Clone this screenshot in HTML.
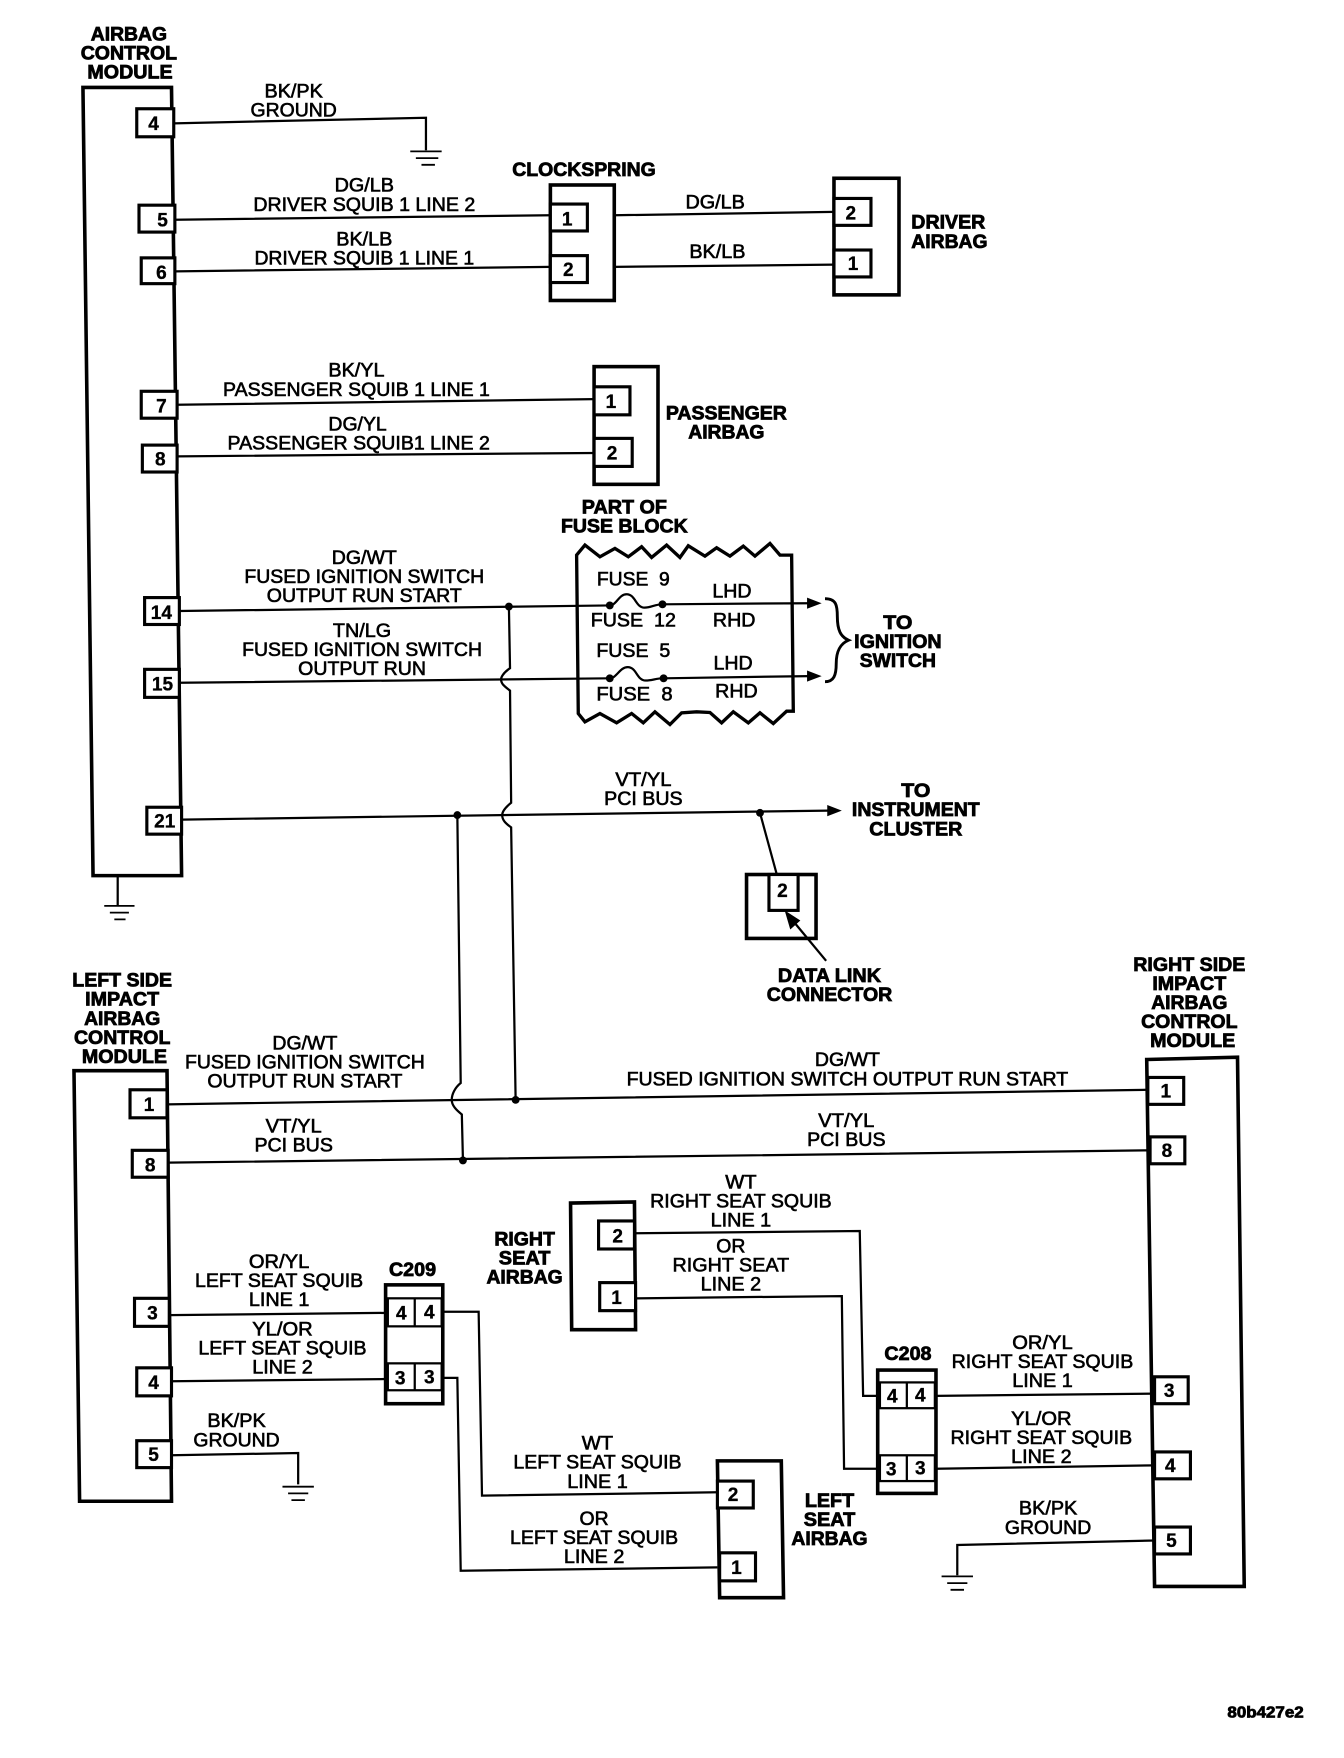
<!DOCTYPE html>
<html><head><meta charset="utf-8"><title>Airbag wiring diagram</title>
<style>
html,body{margin:0;padding:0;background:#fff}
svg{display:block;position:absolute;left:0;top:0}
text{font-family:"Liberation Sans",sans-serif;fill:#000;text-anchor:middle;font-size:17px}
.t{stroke:#000;stroke-width:.55px}
.b{font-weight:bold;stroke:#000;stroke-width:.7px}
.n{font-weight:bold;font-size:17px;stroke:#000;stroke-width:.3px}
.w{fill:none;stroke:#000;stroke-width:2}
.o{fill:#fff;stroke:#000;stroke-width:3.2}
.p{fill:#fff;stroke:#000;stroke-width:2.8}
.g{fill:none;stroke:#000;stroke-width:1.6}
</style></head><body>
<svg width="1344" height="1758" viewBox="0 0 1199 1568" preserveAspectRatio="none" xmlns="http://www.w3.org/2000/svg">
<rect width="1199" height="1568" fill="#fff"/>

<!-- bodies -->
<polygon class="o" points="74,78 153,78 162,781 83,781"/>
<rect class="o" x="491" y="165" width="57" height="103"/>
<rect class="o" x="744" y="159" width="58" height="104"/>
<rect class="o" x="530" y="327" width="57" height="105"/>
<polygon class="o" points="66,955 149,955 153,1339 71,1339"/>
<polygon class="o" points="1023,945 1104,943 1110,1415 1030,1415"/>
<polygon class="o" points="509,1073 566,1072 567,1186 510,1186"/>
<polygon class="o" points="640,1303 697,1303 699,1425 642,1425"/>
<rect class="o" x="666" y="780" width="62" height="57"/>

<!-- wires -->
<path class="w" d="M155,110 L380,105 L380,134"/>
<path class="g" d="M366,135H394M371,141H391M376,147H388"/>
<path class="w" d="M156,196 L491,192M156,242 L491,238M548,192 L744,189M548,238 L744,236"/>
<path class="w" d="M158,361 L530,356M158,407 L530,404"/>
<path class="w" d="M160,545 L544,540 C550,540 552,530 559,530 C567,530 567,542 575,542 C581,542 584,539 591,539 L722,538"/>
<polygon points="733,538 720,533 720,543"/>
<path class="w" d="M160,609 L544,605 C550,605 553,595 560,595 C568,595 568,607 576,607 C582,607 585,605 592,605 L722,603"/>
<polygon points="733,603 720,598 720,608"/>
<path class="w" d="M454,541 L455,596 C449,600 447,604 447,606 C447,610 450,612 455,616 L456,716 C451,720 448,724 448,727 C448,732 452,735 456,738 L460,981"/>
<path class="w" d="M162,731 L739,723"/>
<polygon points="751,723 738,718 738,728"/>
<path class="w" d="M678,725 L693,780"/>
<path class="w" d="M408,727 L411,966 C406,970 403,976 403,981 C403,986 407,990 412,994 L413,1035"/>
<path class="w" d="M149,985 L1024,972M150,1037 L1026,1026"/>
<path class="w" d="M151,1173 L344,1171M153,1232 L344,1230"/>
<path class="w" d="M153,1298 L266,1296 L266,1324"/>
<path class="g" d="M252,1326H280M257,1332H275M260,1338H272"/>
<path class="w" d="M395,1170 L427,1170 L430,1334 L640,1331"/>
<path class="w" d="M395,1229 L408,1229 L411,1401 L640,1398"/>
<path class="w" d="M567,1100 L767,1098 L770,1245 L784,1245"/>
<path class="w" d="M567,1158 L751,1156 L753,1310 L784,1310"/>
<path class="w" d="M835,1245 L1030,1243M835,1310 L1030,1307"/>
<path class="w" d="M1030,1374 L854,1378 L854,1405"/>
<path class="g" d="M840,1406H868M845,1412H863M848,1418H860"/>
<path class="w" d="M105,781 L105,808"/>
<path class="g" d="M93,808H120M98,814H115M102,820H112"/>

<!-- dots -->
<circle cx="454" cy="541" r="3.5"/><circle cx="544" cy="540" r="3.5"/><circle cx="591" cy="539" r="3.5"/>
<circle cx="544" cy="605" r="3.5"/><circle cx="592" cy="605" r="3.5"/>
<circle cx="408" cy="727" r="3.5"/><circle cx="678" cy="725" r="3.5"/>
<circle cx="460" cy="981" r="3.5"/><circle cx="413" cy="1035" r="3.5"/>

<!-- fuse block -->
<path transform="translate(446,428.2) scale(.2974)" fill="none" stroke="#000" stroke-width="10" stroke-linejoin="miter" d="M230,225 L255,195 L300,230 L345,205 L385,230 L425,200 L455,232 L500,195 L540,232 L565,197 L615,228 L650,203 L690,228 L730,198 L765,228 L810,190 L840,225 L875,225 L880,693 L860,693 L820,730 L780,698 L745,728 L700,695 L665,728 L630,697 L590,695 L545,698 L510,733 L465,695 L430,728 L395,700 L350,728 L300,700 L255,725 L235,700 Z"/>

<!-- brace -->
<path fill="none" stroke="#000" stroke-width="2.6" d="M736,534 C746,534 747,540 747,550 C747,562 750,568 757,571 C750,574 746,580 746,592 C746,602 744,608 736,608"/>

<!-- DLC arrow -->
<path class="w" d="M737,857 L708,822"/>
<polygon points="700,812 714,821 705,829"/>

<!-- pins -->
<rect class="p" x="122" y="97" width="33" height="25"/>
<rect class="p" x="124" y="183" width="32" height="24"/>
<rect class="p" x="126" y="230" width="30" height="23"/>
<rect class="p" x="126" y="349" width="32" height="24"/>
<rect class="p" x="127" y="397" width="31" height="24"/>
<rect class="p" x="129" y="533" width="31" height="24"/>
<rect class="p" x="129" y="597" width="31" height="25"/>
<rect class="p" x="131" y="720" width="31" height="24"/>
<rect class="p" x="491" y="182" width="33" height="24"/>
<rect class="p" x="491" y="228" width="33" height="24"/>
<rect class="p" x="744" y="177" width="33" height="24"/>
<rect class="p" x="744" y="223" width="33" height="24"/>
<rect class="p" x="530" y="345" width="32" height="25"/>
<rect class="p" x="530" y="391" width="34" height="25"/>
<rect class="p" x="686" y="780" width="26" height="32"/>
<rect class="p" x="116" y="972" width="33" height="25"/>
<rect class="p" x="118" y="1026" width="32" height="24"/>
<rect class="p" x="120" y="1158" width="31" height="25"/>
<rect class="p" x="122" y="1220" width="31" height="25"/>
<rect class="p" x="122" y="1285" width="31" height="24"/>
<rect class="p" x="534" y="1089" width="32" height="25"/>
<rect class="p" x="535" y="1144" width="32" height="25"/>
<rect class="p" x="640" y="1321" width="32" height="24"/>
<rect class="p" x="642" y="1385" width="32" height="25"/>
<rect class="p" x="1024" y="961" width="32" height="24"/>
<rect class="p" x="1026" y="1014" width="31" height="24"/>
<rect class="p" x="1030" y="1228" width="30" height="24"/>
<rect class="p" x="1030" y="1295" width="32" height="24"/>
<rect class="p" x="1030" y="1362" width="32" height="24"/>

<!-- C209 / C208 -->
<rect class="o" x="344" y="1146" width="51" height="106"/>
<rect class="w" x="346" y="1158" width="48" height="25"/>
<rect class="w" x="346" y="1216" width="48" height="24"/>
<path class="w" d="M370,1158V1183M370,1216V1240"/>
<rect class="o" x="783" y="1222" width="52" height="110"/>
<rect class="w" x="785" y="1233" width="49" height="23"/>
<rect class="w" x="785" y="1298" width="49" height="23"/>
<path class="w" d="M809,1233V1256M809,1298V1321"/>

<!-- pin numbers -->
<text class="n" x="137" y="116">4</text>
<text class="n" x="145" y="202">5</text>
<text class="n" x="144" y="249">6</text>
<text class="n" x="144" y="368">7</text>
<text class="n" x="143" y="415">8</text>
<text class="n" x="144" y="552">14</text>
<text class="n" x="145" y="616">15</text>
<text class="n" x="147" y="738">21</text>
<text class="n" x="506" y="201">1</text>
<text class="n" x="507" y="246">2</text>
<text class="n" x="759" y="196">2</text>
<text class="n" x="761" y="241">1</text>
<text class="n" x="545" y="364">1</text>
<text class="n" x="546" y="410">2</text>
<text class="n" x="698" y="800">2</text>
<text class="n" x="133" y="991">1</text>
<text class="n" x="134" y="1045">8</text>
<text class="n" x="136" y="1177">3</text>
<text class="n" x="137" y="1239">4</text>
<text class="n" x="137" y="1303">5</text>
<text class="n" x="551" y="1108">2</text>
<text class="n" x="550" y="1163">1</text>
<text class="n" x="654" y="1339">2</text>
<text class="n" x="657" y="1404">1</text>
<text class="n" x="1040" y="979">1</text>
<text class="n" x="1041" y="1032">8</text>
<text class="n" x="1043" y="1246">3</text>
<text class="n" x="1044" y="1313">4</text>
<text class="n" x="1045" y="1380">5</text>
<text class="n" x="358" y="1177">4</text>
<text class="n" x="383" y="1176">4</text>
<text class="n" x="357" y="1235">3</text>
<text class="n" x="383" y="1234">3</text>
<text class="n" x="796" y="1251">4</text>
<text class="n" x="821" y="1250">4</text>
<text class="n" x="795" y="1316">3</text>
<text class="n" x="821" y="1315">3</text>

<!-- bold headings -->
<text class="b" x="115" y="36" textLength="68" lengthAdjust="spacingAndGlyphs">AIRBAG</text>
<text class="b" x="115" y="53" textLength="86" lengthAdjust="spacingAndGlyphs">CONTROL</text>
<text class="b" x="116" y="70" textLength="76" lengthAdjust="spacingAndGlyphs">MODULE</text>
<text class="b" x="521" y="157" textLength="128" lengthAdjust="spacingAndGlyphs">CLOCKSPRING</text>
<text class="b" x="846" y="204" textLength="66" lengthAdjust="spacingAndGlyphs">DRIVER</text>
<text class="b" x="847" y="221" textLength="68" lengthAdjust="spacingAndGlyphs">AIRBAG</text>
<text class="b" x="648" y="374" textLength="108" lengthAdjust="spacingAndGlyphs">PASSENGER</text>
<text class="b" x="648" y="391" textLength="68" lengthAdjust="spacingAndGlyphs">AIRBAG</text>
<text class="b" x="557" y="458" textLength="76" lengthAdjust="spacingAndGlyphs">PART OF</text>
<text class="b" x="557" y="475" textLength="113" lengthAdjust="spacingAndGlyphs">FUSE BLOCK</text>
<text class="b" x="801" y="561" textLength="26" lengthAdjust="spacingAndGlyphs">TO</text>
<text class="b" x="801" y="578" textLength="78" lengthAdjust="spacingAndGlyphs">IGNITION</text>
<text class="b" x="801" y="595" textLength="68" lengthAdjust="spacingAndGlyphs">SWITCH</text>
<text class="b" x="817" y="711" textLength="26" lengthAdjust="spacingAndGlyphs">TO</text>
<text class="b" x="817" y="728" textLength="114" lengthAdjust="spacingAndGlyphs">INSTRUMENT</text>
<text class="b" x="817" y="745" textLength="83" lengthAdjust="spacingAndGlyphs">CLUSTER</text>
<text class="b" x="740" y="876" textLength="92" lengthAdjust="spacingAndGlyphs">DATA LINK</text>
<text class="b" x="740" y="893" textLength="112" lengthAdjust="spacingAndGlyphs">CONNECTOR</text>
<text class="b" x="109" y="880" textLength="89" lengthAdjust="spacingAndGlyphs">LEFT SIDE</text>
<text class="b" x="109" y="897" textLength="66" lengthAdjust="spacingAndGlyphs">IMPACT</text>
<text class="b" x="109" y="914" textLength="68" lengthAdjust="spacingAndGlyphs">AIRBAG</text>
<text class="b" x="109" y="931" textLength="86" lengthAdjust="spacingAndGlyphs">CONTROL</text>
<text class="b" x="111" y="948" textLength="76" lengthAdjust="spacingAndGlyphs">MODULE</text>
<text class="b" x="1061" y="866" textLength="100" lengthAdjust="spacingAndGlyphs">RIGHT SIDE</text>
<text class="b" x="1061" y="883" textLength="66" lengthAdjust="spacingAndGlyphs">IMPACT</text>
<text class="b" x="1061" y="900" textLength="68" lengthAdjust="spacingAndGlyphs">AIRBAG</text>
<text class="b" x="1061" y="917" textLength="86" lengthAdjust="spacingAndGlyphs">CONTROL</text>
<text class="b" x="1064" y="934" textLength="76" lengthAdjust="spacingAndGlyphs">MODULE</text>
<text class="b" x="468" y="1111" textLength="54" lengthAdjust="spacingAndGlyphs">RIGHT</text>
<text class="b" x="468" y="1128" textLength="46" lengthAdjust="spacingAndGlyphs">SEAT</text>
<text class="b" x="468" y="1145" textLength="68" lengthAdjust="spacingAndGlyphs">AIRBAG</text>
<text class="b" x="368" y="1138" textLength="42" lengthAdjust="spacingAndGlyphs">C209</text>
<text class="b" x="810" y="1213" textLength="42" lengthAdjust="spacingAndGlyphs">C208</text>
<text class="b" x="740" y="1344" textLength="44" lengthAdjust="spacingAndGlyphs">LEFT</text>
<text class="b" x="740" y="1361" textLength="46" lengthAdjust="spacingAndGlyphs">SEAT</text>
<text class="b" x="740" y="1378" textLength="68" lengthAdjust="spacingAndGlyphs">AIRBAG</text>
<text class="b" x="1129" y="1532" textLength="68" lengthAdjust="spacingAndGlyphs" style="font-size:14px">80b427e2</text>

<!-- wire labels -->
<text class="t" x="262" y="87" textLength="52" lengthAdjust="spacingAndGlyphs">BK/PK</text>
<text class="t" x="262" y="104" textLength="77" lengthAdjust="spacingAndGlyphs">GROUND</text>
<text class="t" x="325" y="171" textLength="53" lengthAdjust="spacingAndGlyphs">DG/LB</text>
<text class="t" x="325" y="188" textLength="198" lengthAdjust="spacingAndGlyphs">DRIVER SQUIB 1 LINE 2</text>
<text class="t" x="325" y="219" textLength="50" lengthAdjust="spacingAndGlyphs">BK/LB</text>
<text class="t" x="325" y="236" textLength="196" lengthAdjust="spacingAndGlyphs">DRIVER SQUIB 1 LINE 1</text>
<text class="t" x="638" y="186" textLength="53" lengthAdjust="spacingAndGlyphs">DG/LB</text>
<text class="t" x="640" y="230" textLength="50" lengthAdjust="spacingAndGlyphs">BK/LB</text>
<text class="t" x="318" y="336" textLength="50" lengthAdjust="spacingAndGlyphs">BK/YL</text>
<text class="t" x="318" y="353" textLength="238" lengthAdjust="spacingAndGlyphs">PASSENGER SQUIB 1 LINE 1</text>
<text class="t" x="319" y="384" textLength="52" lengthAdjust="spacingAndGlyphs">DG/YL</text>
<text class="t" x="320" y="401" textLength="234" lengthAdjust="spacingAndGlyphs">PASSENGER SQUIB1 LINE 2</text>
<text class="t" x="325" y="503" textLength="58" lengthAdjust="spacingAndGlyphs">DG/WT</text>
<text class="t" x="325" y="520" textLength="214" lengthAdjust="spacingAndGlyphs">FUSED IGNITION SWITCH</text>
<text class="t" x="325" y="537" textLength="174" lengthAdjust="spacingAndGlyphs">OUTPUT RUN START</text>
<text class="t" x="323" y="568" textLength="52" lengthAdjust="spacingAndGlyphs">TN/LG</text>
<text class="t" x="323" y="585" textLength="214" lengthAdjust="spacingAndGlyphs">FUSED IGNITION SWITCH</text>
<text class="t" x="323" y="602" textLength="114" lengthAdjust="spacingAndGlyphs">OUTPUT RUN</text>
<text class="t" x="565" y="522" textLength="65" lengthAdjust="spacingAndGlyphs" xml:space="preserve">FUSE  9</text>
<text class="t" x="565" y="559" textLength="76" lengthAdjust="spacingAndGlyphs" xml:space="preserve">FUSE  12</text>
<text class="t" x="565" y="586" textLength="66" lengthAdjust="spacingAndGlyphs" xml:space="preserve">FUSE  5</text>
<text class="t" x="566" y="625" textLength="68" lengthAdjust="spacingAndGlyphs" xml:space="preserve">FUSE  8</text>
<text class="t" x="653" y="533" textLength="35" lengthAdjust="spacingAndGlyphs">LHD</text>
<text class="t" x="655" y="559" textLength="38" lengthAdjust="spacingAndGlyphs">RHD</text>
<text class="t" x="654" y="597" textLength="35" lengthAdjust="spacingAndGlyphs">LHD</text>
<text class="t" x="657" y="622" textLength="38" lengthAdjust="spacingAndGlyphs">RHD</text>
<text class="t" x="574" y="701" textLength="50" lengthAdjust="spacingAndGlyphs">VT/YL</text>
<text class="t" x="574" y="718" textLength="70" lengthAdjust="spacingAndGlyphs">PCI BUS</text>
<text class="t" x="272" y="936" textLength="58" lengthAdjust="spacingAndGlyphs">DG/WT</text>
<text class="t" x="272" y="953" textLength="214" lengthAdjust="spacingAndGlyphs">FUSED IGNITION SWITCH</text>
<text class="t" x="272" y="970" textLength="174" lengthAdjust="spacingAndGlyphs">OUTPUT RUN START</text>
<text class="t" x="262" y="1010" textLength="50" lengthAdjust="spacingAndGlyphs">VT/YL</text>
<text class="t" x="262" y="1027" textLength="70" lengthAdjust="spacingAndGlyphs">PCI BUS</text>
<text class="t" x="756" y="951" textLength="58" lengthAdjust="spacingAndGlyphs">DG/WT</text>
<text class="t" x="756" y="968" textLength="394" lengthAdjust="spacingAndGlyphs">FUSED IGNITION SWITCH OUTPUT RUN START</text>
<text class="t" x="755" y="1005" textLength="50" lengthAdjust="spacingAndGlyphs">VT/YL</text>
<text class="t" x="755" y="1022" textLength="70" lengthAdjust="spacingAndGlyphs">PCI BUS</text>
<text class="t" x="661" y="1060" textLength="28" lengthAdjust="spacingAndGlyphs">WT</text>
<text class="t" x="661" y="1077" textLength="162" lengthAdjust="spacingAndGlyphs">RIGHT SEAT SQUIB</text>
<text class="t" x="661" y="1094" textLength="54" lengthAdjust="spacingAndGlyphs">LINE 1</text>
<text class="t" x="652" y="1117" textLength="26" lengthAdjust="spacingAndGlyphs">OR</text>
<text class="t" x="652" y="1134" textLength="104" lengthAdjust="spacingAndGlyphs">RIGHT SEAT</text>
<text class="t" x="652" y="1151" textLength="54" lengthAdjust="spacingAndGlyphs">LINE 2</text>
<text class="t" x="249" y="1131" textLength="54" lengthAdjust="spacingAndGlyphs">OR/YL</text>
<text class="t" x="249" y="1148" textLength="150" lengthAdjust="spacingAndGlyphs">LEFT SEAT SQUIB</text>
<text class="t" x="249" y="1165" textLength="54" lengthAdjust="spacingAndGlyphs">LINE 1</text>
<text class="t" x="252" y="1191" textLength="54" lengthAdjust="spacingAndGlyphs">YL/OR</text>
<text class="t" x="252" y="1208" textLength="150" lengthAdjust="spacingAndGlyphs">LEFT SEAT SQUIB</text>
<text class="t" x="252" y="1225" textLength="54" lengthAdjust="spacingAndGlyphs">LINE 2</text>
<text class="t" x="211" y="1273" textLength="52" lengthAdjust="spacingAndGlyphs">BK/PK</text>
<text class="t" x="211" y="1290" textLength="77" lengthAdjust="spacingAndGlyphs">GROUND</text>
<text class="t" x="533" y="1293" textLength="28" lengthAdjust="spacingAndGlyphs">WT</text>
<text class="t" x="533" y="1310" textLength="150" lengthAdjust="spacingAndGlyphs">LEFT SEAT SQUIB</text>
<text class="t" x="533" y="1327" textLength="54" lengthAdjust="spacingAndGlyphs">LINE 1</text>
<text class="t" x="530" y="1360" textLength="26" lengthAdjust="spacingAndGlyphs">OR</text>
<text class="t" x="530" y="1377" textLength="150" lengthAdjust="spacingAndGlyphs">LEFT SEAT SQUIB</text>
<text class="t" x="530" y="1394" textLength="54" lengthAdjust="spacingAndGlyphs">LINE 2</text>
<text class="t" x="930" y="1203" textLength="54" lengthAdjust="spacingAndGlyphs">OR/YL</text>
<text class="t" x="930" y="1220" textLength="162" lengthAdjust="spacingAndGlyphs">RIGHT SEAT SQUIB</text>
<text class="t" x="930" y="1237" textLength="54" lengthAdjust="spacingAndGlyphs">LINE 1</text>
<text class="t" x="929" y="1271" textLength="54" lengthAdjust="spacingAndGlyphs">YL/OR</text>
<text class="t" x="929" y="1288" textLength="162" lengthAdjust="spacingAndGlyphs">RIGHT SEAT SQUIB</text>
<text class="t" x="929" y="1305" textLength="54" lengthAdjust="spacingAndGlyphs">LINE 2</text>
<text class="t" x="935" y="1351" textLength="52" lengthAdjust="spacingAndGlyphs">BK/PK</text>
<text class="t" x="935" y="1368" textLength="77" lengthAdjust="spacingAndGlyphs">GROUND</text>
</svg>
</body></html>
